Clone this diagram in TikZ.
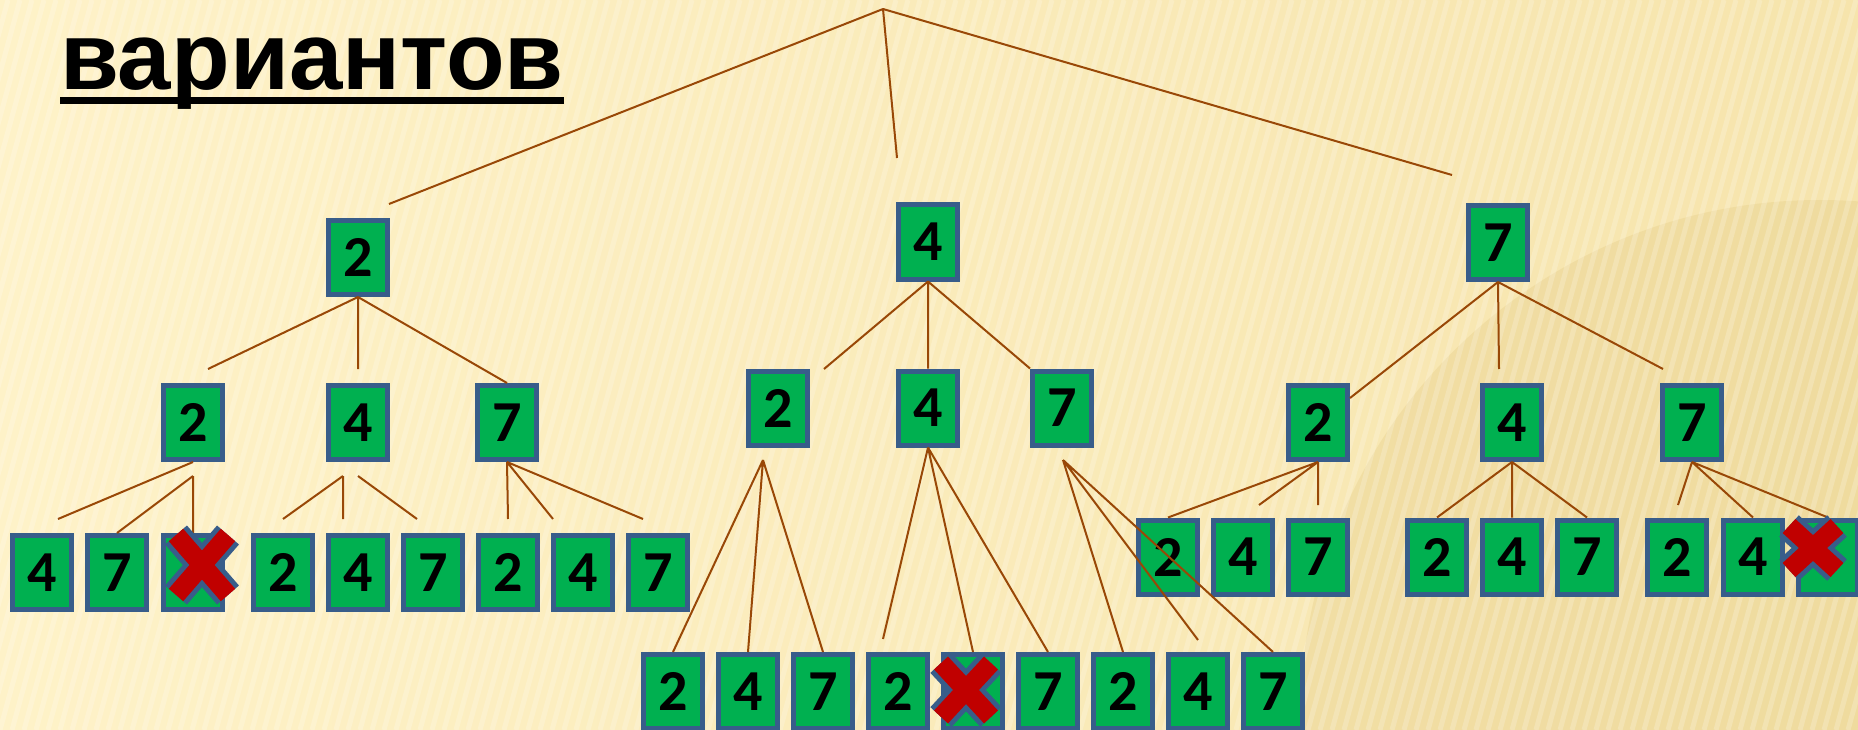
\documentclass[tikz,border=0pt]{standalone}
\usepackage{fontspec}
\setmainfont{Liberation Sans}
\newfontfamily\digitfont{Carlito}[BoldFont={* Bold}]
\definecolor{bgpale}{RGB}{254,242,200}
\definecolor{bgtan}{RGB}{246,228,172}
\definecolor{bgdark}{RGB}{226,200,128}
\definecolor{boxgreen}{RGB}{0,176,80}
\definecolor{boxblue}{RGB}{56,93,138}
\definecolor{twig}{RGB}{153,72,7}
\definecolor{crossred}{RGB}{192,0,0}
\tikzset{
    numbox/.style={draw=boxblue, line width=5pt, fill=boxgreen, minimum width=59pt,
        minimum height=74pt, inner sep=0pt, font=\digitfont\bfseries\fontsize{58}{58}\selectfont},
    twigline/.style={draw=twig, line width=2pt},
}
% red cross over a box: centre x, centre y, half width, half height
\newcommand{\crossmark}[4]{%
    \draw[boxblue, line width=29pt] (#1-#3,#2-#4) -- (#1+#3,#2+#4) (#1-#3,#2+#4) -- (#1+#3,#2-#4);
    \draw[crossred, line width=19pt] (#1-#3,#2-#4) -- (#1+#3,#2+#4) (#1-#3,#2+#4) -- (#1+#3,#2-#4);
}
\begin{document}
\begin{tikzpicture}[x=1pt, y=-1pt]
    \useasboundingbox (0,0) rectangle (1858,730);
    % background
    \shade[left color=bgpale, right color=bgtan] (0,0) rectangle (1858,730);
    \begin{scope}
        \clip (0,0) rectangle (1858,730);
        \fill[bgdark, opacity=0.3] (1820,720) circle (520);
        \foreach \s in {-240,-228,...,1860} {
            \draw[white, opacity=0.2, line width=5pt] (\s,730) -- (\s+200,0);
        }
    \end{scope}
    % title
    \node[anchor=base west, inner sep=0pt, font=\fontsize{96}{100}\selectfont\bfseries] (title) at (60,90) {вариантов};
    \fill ([yshift=-7pt]title.base west) rectangle ([yshift=-14pt]title.base east);
    % first digit
    \node[numbox] (a) at (358,257.5) {2};
    \node[numbox] (b) at (928,242) {4};
    \node[numbox] (c) at (1498,242.5) {7};
    % second digit
    \foreach \x/\d/\n in {193/2/a2, 358/4/a4, 507/7/a7, 1318/2/c2, 1512/4/c4, 1692/7/c7} {
        \node[numbox] (\n) at (\x,422.5) {\d};
    }
    \foreach \x/\d/\n in {778/2/b2, 928/4/b4, 1062/7/b7} {
        \node[numbox] (\n) at (\x,408) {\d};
    }
    % third digit
    \foreach \x/\d/\n in {42/4/aa4, 117/7/aa7, 283/2/ab2, 358/4/ab4, 433/7/ab7, 508/2/ac2, 583/4/ac4, 658/7/ac7} {
        \node[numbox] (\n) at (\x,572.5) {\d};
    }
    \node[numbox] (aaX) at (193,572.5) {};
    \foreach \x/\d/\n in {673/2/ba2, 748/4/ba4, 823/7/ba7, 898/2/bb2, 1048/7/bb7, 1123/2/bc2, 1198/4/bc4, 1273/7/bc7} {
        \node[numbox] (\n) at (\x,691.5) {\d};
    }
    \node[numbox] (bbX) at (973,691.5) {};
    \foreach \x/\d/\n in {1168/2/ca2, 1243/4/ca4, 1318/7/ca7, 1437/2/cb2, 1512/4/cb4, 1587/7/cb7, 1677/2/cc2, 1753/4/cc4} {
        \node[numbox] (\n) at (\x,557) {\d};
    }
    \node[numbox] (ccX) at (1828,557) {};
    % free ends of the branches
    \coordinate (root) at (883,9);
    \coordinate (ra) at (389,204);
    \coordinate (rb) at (897,158);
    \coordinate (rc) at (1452,175);
    \coordinate (aL) at (208,369);
    \coordinate (aM) at (358,369);
    \coordinate (bL) at (824,369);
    \coordinate (cL) at (1350,398);
    \coordinate (cM) at (1499,369);
    \coordinate (cR) at (1663,369);
    \coordinate (a2L) at (58,519);
    \coordinate (a2top) at (193,476);
    \coordinate (a4top) at (343,476);
    \coordinate (a4top2) at (358,476);
    \coordinate (a4L) at (283,519);
    \coordinate (a4M) at (343,519);
    \coordinate (a4R) at (417,519);
    \coordinate (a7L) at (508,519);
    \coordinate (a7M) at (553,519);
    \coordinate (a7R) at (643,519);
    \coordinate (b2top) at (763,460);
    \coordinate (b4L) at (883,639);
    \coordinate (b7top) at (1063,460);
    \coordinate (b7M) at (1198,640);
    \coordinate (c2M) at (1259,505);
    \coordinate (c2R) at (1318,505);
    \coordinate (c7L) at (1678,505);
    % branches
    \draw[twigline] (root) -- (ra) (root) -- (rb) (root) -- (rc);
    \draw[twigline] (a.south) -- (aL) (a.south) -- (aM) (a.south) -- (a7.north);
    \draw[twigline] (b.south) -- (bL) (b.south) -- (b4.north) (b.south) -- (b7.north west);
    \draw[twigline] (c.south) -- (cL) (c.south) -- (cM) (c.south) -- (cR);
    \draw[twigline] (a2.south) -- (a2L) (a2top) -- (aa7.north) (a2top) -- (aaX.north);
    \draw[twigline] (a4top) -- (a4L) (a4top) -- (a4M) (a4top2) -- (a4R);
    \draw[twigline] (a7.south) -- (a7L) (a7.south) -- (a7M) (a7.south) -- (a7R);
    \draw[twigline] (b2top) -- (ba2.north) (b2top) -- (ba4.north) (b2top) -- (ba7.north);
    \draw[twigline] (b4.south) -- (b4L) (b4.south) -- (bbX.north) (b4.south) -- (bb7.north);
    \draw[twigline] (b7top) -- (bc2.north) (b7top) -- (b7M) (b7top) -- (bc7.north);
    \draw[twigline] (c2.south) -- (ca2.north) (c2.south) -- (c2M) (c2.south) -- (c2R);
    \draw[twigline] (c4.south) -- (cb2.north) (c4.south) -- (cb4.north) (c4.south) -- (cb7.north);
    \draw[twigline] (c7.south) -- (c7L) (c7.south) -- (cc4.north) (c7.south) -- (ccX.north);
    % crossed out
    \crossmark{202}{565}{26}{30}
    \crossmark{966}{690}{25}{27}
    \crossmark{1813}{548}{24}{22}
\end{tikzpicture}
\end{document}
